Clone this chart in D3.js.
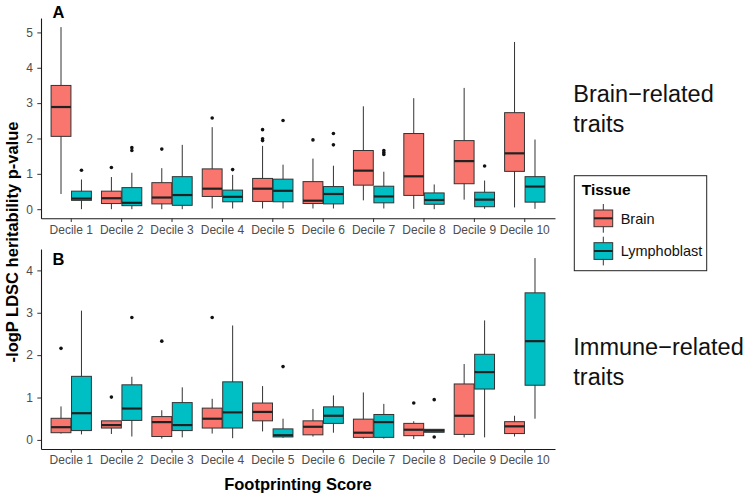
<!DOCTYPE html>
<html lang="en">
<head>
<meta charset="utf-8" />
<title>LDSC heritability by footprinting score decile</title>
<style>
   body { margin:0; background:#fff; }
   svg { font-family:"Liberation Sans", Arial, sans-serif; }
   .tick text { fill:#4d4d4d; font-size:12px; }
   .tick line { stroke:#333; }
   .domain { stroke:#1a1a1a; stroke-width:1.1px; }
</style>
<script src="https://d3js.org/d3.v7.min.js"></script>
</head>
<body>
<svg id="main" width="750" height="498"></svg>
<script>
var deciles = ['Decile 1','Decile 2','Decile 3','Decile 4','Decile 5','Decile 6','Decile 7','Decile 8','Decile 9','Decile 10'];
var tissues = ['Brain','Lymphoblast'];
var tissueColors = ['#F8766D','#00BFC4'];

// box stats per decile: [lower whisker, q1, median, q3, upper whisker]
var brainA = [[0.43,2.06,2.89,3.50,5.15],[0,0.16,0.31,0.51,0.91],[0,0.15,0.33,0.75,1.16],[0.02,0.36,0.58,1.14,2.32],[0.02,0.22,0.58,0.87,1.79],
   [0.02,0.16,0.24,0.78,1.43],[0.25,0.68,1.09,1.66,2.91],[0.01,0.39,0.93,2.14,3.14],[0.27,0.72,1.36,1.94,3.43],[0.05,1.07,1.58,2.73,4.73]];
var lymphA = [[0,0.25,0.30,0.51,0.84],[0,0.10,0.18,0.61,1.03],[0,0.11,0.40,0.92,1.82],[0.02,0.21,0.35,0.54,0.97],[0.02,0.21,0.52,0.85,1.26],
   [0.02,0.15,0.43,0.64,1.23],[0.02,0.18,0.36,0.65,1.06],[0,0.14,0.26,0.46,0.70],[0.01,0.07,0.27,0.48,0.81],[0.01,0.20,0.64,0.92,1.97]];
var brainOutA = [[],[1.18],[1.70],[2.58],[1.94,1.99,2.25],[1.96],[],[],[],[]];
var lymphOutA = [[1.10],[1.66,1.74],[],[1.12],[2.51],[1.82,2.14],[1.55,1.60,1.66],[],[1.22],[]];

var brainB = [[0.15,0.17,0.30,0.51,0.79],[0.14,0.28,0.35,0.45,0.45],[0.03,0.08,0.42,0.55,0.70],[0.15,0.28,0.50,0.75,0.97],[0.20,0.45,0.66,0.87,1.27],
   [0.08,0.12,0.31,0.45,0.73],[0.03,0.06,0.17,0.49,1.12],[0.02,0.10,0.24,0.39,0.44],[0.06,0.13,0.57,1.32,1.79],[0.08,0.15,0.32,0.43,0.57]];
var lymphB = [[0.13,0.22,0.63,1.50,3.05],[0.08,0.46,0.74,1.30,1.49],[0.06,0.22,0.35,0.88,1.24],[0.04,0.28,0.65,1.37,2.70],[0.05,0.07,0.11,0.26,0.50],
   [0.17,0.39,0.57,0.78,1.05],[0.03,0.06,0.42,0.60,0.85],[0.18,0.18,0.22,0.25,0.25],[0.06,1.20,1.60,2.02,2.82],[0.50,1.29,2.33,3.47,4.29]];
var brainOutB = [[2.16],[1.01],[2.33],[2.89],[],[],[],[0.87],[],[]];
var lymphOutB = [[],[2.89],[],[],[1.73],[],[],[0.07,0.95],[],[]];

var ticksA = [0,1,2,3,4,5];
var ticksB = [0,1,2,3,4];

var svg = d3.select('#main');
var left = 41, right = 555;

var x = d3.scaleBand().domain(deciles).range([left,right]).paddingInner(0).paddingOuter(0.1);
var xs = d3.scaleBand().domain(tissues).range([x.bandwidth()*0.1, x.bandwidth()*0.9]).paddingInner(0.03);

function fpanel(top,bottom,ymax,ticks,brain,lymph,brainOut,lymphOut,tag) {
   // ggplot style 5% expansion on the data range
   var pad = ymax*0.05;
   var y = d3.scaleLinear().domain([-pad,ymax+pad]).range([bottom,top]);
   var g = svg.append('g');

   var series = [{stats:brain,out:brainOut},{stats:lymph,out:lymphOut}];
   series.forEach(function(s,ti) {
      var bw = xs.bandwidth();
      var grp = g.selectAll(null).data(deciles).enter().append('g')
         .attr('transform', function(d) { return 'translate('+(x(d)+xs(tissues[ti]))+',0)'; });
      grp.append('line')
         .attr('x1',bw/2).attr('x2',bw/2)
         .attr('y1', function(d,i) { return y(s.stats[i][4]); })
         .attr('y2', function(d,i) { return y(s.stats[i][0]); })
         .style('stroke','#333').style('stroke-width',1);
      grp.append('rect')
         .attr('x',0).attr('width',bw)
         .attr('y', function(d,i) { return y(s.stats[i][3]); })
         .attr('height', function(d,i) { return Math.max(y(s.stats[i][1])-y(s.stats[i][3]),0.5); })
         .style('fill',tissueColors[ti]).style('stroke','#333').style('stroke-width',1);
      grp.append('line')
         .attr('x1',0).attr('x2',bw)
         .attr('y1', function(d,i) { return y(s.stats[i][2]); })
         .attr('y2', function(d,i) { return y(s.stats[i][2]); })
         .style('stroke','#222').style('stroke-width',2.2);
      grp.each(function(d,i) {
         d3.select(this).selectAll('circle').data(s.out[i]).enter().append('circle')
            .attr('cx',bw/2).attr('cy', function(v) { return y(v); }).attr('r',1.8)
            .style('fill','#111');
      });
   });

   var yAxis = g.append('g').attr('transform','translate('+left+',0)')
      .call(d3.axisLeft(y).tickValues(ticks).tickFormat(d3.format('d')).tickSize(3.7).tickSizeOuter(0).tickPadding(4.5));
   var xAxis = g.append('g').attr('transform','translate(0,'+bottom+')')
      .call(d3.axisBottom(x).tickSize(3.7).tickSizeOuter(0).tickPadding(3));
   xAxis.selectAll('.tick text').attr('dy','0.71em');

   svg.append('text').attr('x',52.5).attr('y',top+(tag==='A'?0.3:16))
      .style('font-weight','bold').style('font-size','16.5px').style('fill','#000').text(tag);
}

fpanel(18,218.3,5.15,ticksA,brainA,lymphA,brainOutA,lymphOutA,'A');
fpanel(249,449,4.29,ticksB,brainB,lymphB,brainOutB,lymphOutB,'B');

// axis titles
svg.append('text').attr('transform','translate(18,242) rotate(-90)')
   .attr('text-anchor','middle').style('font-weight','bold').style('font-size','16.5px')
   .text('-logP LDSC heritability p-value');
svg.append('text').attr('x',(left+right)/2).attr('y',490)
   .attr('text-anchor','middle').style('font-weight','bold').style('font-size','16.5px')
   .text('Footprinting Score');

// panel captions on the right
function fcaption(lines,y0) {
   lines.forEach(function(t,i) {
      svg.append('text').attr('x',573.3).attr('y',y0+i*30)
         .style('font-size','23.5px').style('fill','#111').text(t);
   });
}
fcaption(['Brain\u2212related','traits'],101.5);
fcaption(['Immune\u2212related','traits'],355);

// legend
var lg = svg.append('g');
lg.append('rect').attr('x',574.3).attr('y',175.7).attr('width',132.4).attr('height',95)
   .style('fill','#fff').style('stroke','#222').style('stroke-width',1);
lg.append('text').attr('x',581.7).attr('y',195).style('font-weight','bold').style('font-size','15.5px').text('Tissue');
tissues.forEach(function(t,i) {
   var ky = 204 + i*32.7;
   lg.append('line').attr('x1',603.3).attr('x2',603.3).attr('y1',ky).attr('y2',ky+28.7)
      .style('stroke','#333');
   lg.append('rect').attr('x',594).attr('y',ky+6).attr('width',18.7).attr('height',16.7)
      .style('fill',tissueColors[i]).style('stroke','#333');
   lg.append('line').attr('x1',594).attr('x2',612.7).attr('y1',ky+14.3).attr('y2',ky+14.3)
      .style('stroke','#222').style('stroke-width',2);
   lg.append('text').attr('x',620.7).attr('y',ky+19.5).style('font-size','14.5px').style('fill','#111').text(t);
});
</script>
</body>
</html>
